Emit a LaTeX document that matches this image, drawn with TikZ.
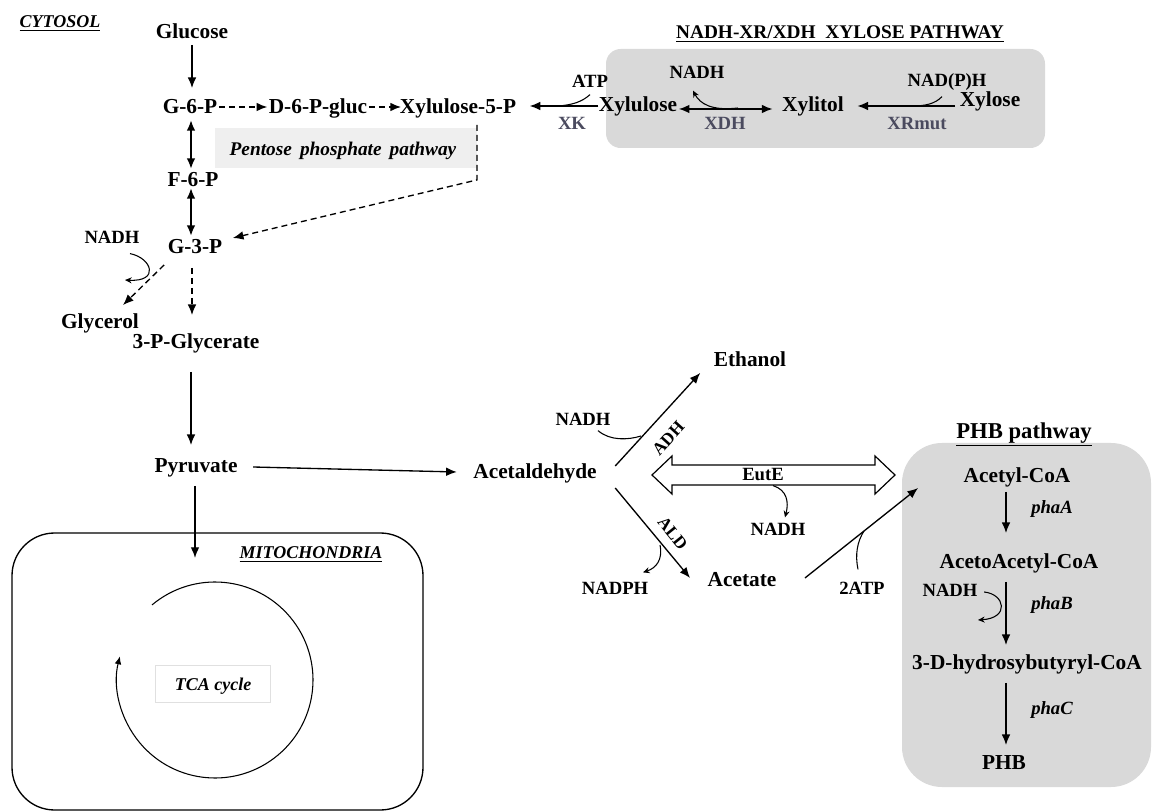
\documentclass[tikz,border=0pt]{standalone}
\usepackage{fontspec}
\setmainfont{Liberation Serif}
\usetikzlibrary{arrows.meta,calc}
\definecolor{enzgray}{RGB}{75,75,95}
\definecolor{boxgray}{RGB}{217,217,217}
\definecolor{pppgray}{RGB}{239,239,239}
\tikzset{
  met/.style={font=\fontsize{16}{18}\selectfont\bfseries,inner sep=1pt,text height=12pt,text depth=2pt},
  cof/.style={font=\fontsize{14}{16}\selectfont\bfseries,inner sep=1pt,text height=10.5pt,text depth=1.5pt},
  enz/.style={cof,text=enzgray},
  gene/.style={cof,font=\fontsize{14}{16}\selectfont\bfseries\itshape},
  region/.style={cof,font=\fontsize{13.5}{16}\selectfont\bfseries\itshape},
  rxn/.style={-{Latex[length=8pt,width=6.5pt]},line width=1pt},
  rev/.style={{Latex[length=8pt,width=6.5pt]}-{Latex[length=8pt,width=6.5pt]},line width=1.6pt},
  curv/.style={line width=0.8pt},
  curvarr/.style={curv,-{Stealth[length=5pt,width=4.5pt]}},
  dsh/.style={dash pattern=on 4.5pt off 3pt}
}
\begin{document}
\begin{tikzpicture}[x=0.75pt,y=-0.75pt]
\useasboundingbox (0,0) rectangle (1153,812);

% compartments
\fill[boxgray,rounded corners=11pt] (606,49) rectangle (1045,148);
\fill[boxgray,rounded corners=30pt] (902,443) rectangle (1151,787);
\draw[line width=1pt,rounded corners=32pt] (12,533) rectangle (423,810);
\node[fill=pppgray,minimum width=196.5pt,minimum height=30pt,inner sep=0pt] (ppp) at (346,148) {};
\node[region,font=\fontsize{14.5}{16}\selectfont\bfseries\itshape] (ppplbl) at (343,150) {Pentose\ \,phosphate\ \,pathway};

% titles
\node[region] (cyt) at (60,22) {\underline{CYTOSOL}};
\node[cof,font=\fontsize{14.5}{16}\selectfont\bfseries] (xttl) at (840,33) {\underline{NADH-XR/XDH\ \ XYLOSE PATHWAY}};
\node[met,font=\fontsize{17}{19}\selectfont\bfseries] (phbttl) at (1024,432) {\underline{PHB pathway}};
\node[region] (mito) at (311,553) {\underline{MITOCHONDRIA}};

% glycolysis
\node[met] (glc) at (192,32) {Glucose};
\node[met] (g6p) at (190,107) {G-6-P};
\node[met] (d6p) at (318,107) {D-6-P-gluc};
\node[met] (x5p) at (458,107) {Xylulose-5-P};
\node[met] (f6p) at (193,180) {F-6-P};
\node[met] (g3p) at (195,247) {G-3-P};
\node[cof] (nadhA) at (112,238) {NADH};
\node[met] (glyc) at (100,322) {Glycerol};
\node[met] (pga) at (196,342) {3-P-Glycerate};
\node[met] (pyr) at (196,466) {Pyruvate};

\draw[rxn,shorten <=1.5pt,shorten >=6pt] (glc.south) -- (glc.south |- g6p.north);
\draw[rxn,dsh] (g6p.east) -- (d6p.west);
\draw[rxn,dsh,shorten >=-2pt] (d6p.east) -- (x5p.west);
\draw[rev,shorten <=1.5pt] ($(g6p.south)+(1,0)$) -- ($(g6p.south |- f6p.north)+(1,0)$);
\draw[rev] ($(f6p.south)+(-2,-3)$) -- ($(f6p.south |- g3p.north)+(-2,0)$);
\draw[rxn,dsh] ($(x5p.south)+(19,7)$) -- ++(0,55) -- ($(g3p.east)+(9,-9)$);
\draw[rxn,dsh] ($(g3p.south west)+(-2,7)$) -- ($(glyc.north)+(23,-6)$);
\draw[curvarr] ($(nadhA.south)+(18,6)$) .. controls (152,258) and (160,282) .. (125,280);
\draw[rxn,dsh] ($(g3p.south)+(-3,10)$) -- ($(pga.north)+(-4,-16)$);
\draw[rxn] ($(pga.south)+(-5,19)$) -- ($(pyr.north)+(-5,-10)$);
\draw[rxn] ($(pyr.south)+(-1,9)$) -- ($(pyr.south)+(-1,81)$);

% xylose pathway
\node[cof] (atp) at (590,82) {ATP};
\node[enz] (xk) at (572,124) {XK};
\node[met] (xul) at (638,105) {Xylulose};
\node[cof] (nadhB) at (697,73) {NADH};
\node[enz] (xdh) at (725,124) {XDH};
\node[met] (xol) at (813,105) {Xylitol};
\node[cof] (nadph) at (947,81) {NAD(P)H};
\node[enz] (xr) at (917,124) {XRmut};
\node[met] (xyl) at (990,100) {Xylose};

\draw[rxn] ($(xul.west)+(1,1)$) -- ($(x5p.east)+(12,-1)$);
\draw[curv] ($(atp.south)+(0,3)$) .. controls (582,102) and (572,105) .. (558,106);
\draw[rev,line width=1.3pt] ($(xul.east)+(0,4)$) -- ($(xol.west)+(-8,4)$);
\draw[curvarr] (738,108) .. controls (712,111) and (700,104) .. ($(nadhB.south)+(-4,8)$);
\draw[rxn] ($(xyl.west)+(-3,6)$) -- ($(xol.east)+(12,1)$);
\draw[curv] ($(nadph.south)+(-5,6)$) .. controls (935,104) and (925,106) .. (912,106);

% acetaldehyde branch
\node[met] (acald) at (535,472) {Acetaldehyde};
\node[met] (etoh) at (750,360) {Ethanol};
\node[cof] (nadhC) at (583,420) {NADH};
\node[cof,font=\fontsize{13}{15}\selectfont\bfseries,rotate=48] (adh) at (668,438) {ADH};
\node[cof,font=\fontsize{13}{15}\selectfont\bfseries,rotate=-51] (ald) at (673,533) {ALD};
\node[cof] (nadphB) at (615,588) {NADPH};
\node[met] (acet) at (742,580) {Acetate};
\node[cof] (atpB) at (862,588) {2ATP};

\draw[rxn] ($(pyr.east)+(14,1)$) -- ($(acald.west)+(-15,0)$);
\draw[rxn] ($(acald.east)+(17,-6)$) -- ($(etoh.south west)+(-12,2)$);
\draw[curv] ($(nadhC.south)+(15,1)$) .. controls (610,441) and (628,440) .. (641,436);
\draw[rxn] ($(acald.east)+(17,16)$) -- ($(acet.west)+(-16,-2)$);
\draw[curvarr] (660,545) .. controls (663,560) and (656,568) .. ($(nadphB.north)+(28,-6)$);

\coordinate (eutL) at (652,475);
\draw[line width=0.9pt,fill=white] (eutL) -- ++(20,-19) -- ++(0,9) -- ++(203,0) -- ++(0,-9)
  -- ++(20,19) -- ++(-20,19) -- ++(0,-9) -- ++(-203,0) -- ++(0,9) -- cycle;
\node[cof] (eute) at (763,475) {EutE};
\node[cof] (nadhD) at (778,530) {NADH};
\draw[curvarr] ($(eute.south)+(10,1)$) .. controls (787,490) and (789,502) .. ($(nadhD.north)+(7,-3)$);

% PHB pathway
\node[met] (acoa) at (1017,476) {Acetyl-CoA};
\node[gene] (phaA) at (1052,508) {phaA};
\node[met] (aacoa) at (1019,562) {AcetoAcetyl-CoA};
\node[cof] (nadhE) at (950,590) {NADH};
\node[gene] (phaB) at (1052,603) {phaB};
\node[met] (hbcoa) at (1027,663) {3-D-hydrosybutyryl-CoA};
\node[gene] (phaC) at (1052,708) {phaC};
\node[met] (phb) at (1004,763) {PHB};

\draw[rxn] ($(acet.east)+(27,-2)$) -- ($(acoa.west)+(-44,12)$);
\draw[curv] ($(atpB.north)+(-4,-9)$) .. controls (855,555) and (857,542) .. (864,531);
\draw[rxn] ($(acoa.south)+(-11,5)$) -- ($(aacoa.north)+(-13,-18)$);
\draw[rxn] ($(aacoa.south)+(-13,9)$) -- ($(hbcoa.north)+(-21,-7)$);
\draw[curvarr] ($(nadhE.east)+(5,2)$) .. controls (1005,594) and (1010,618) .. (978,620);
\draw[rxn] ($(hbcoa.south)+(-21,9)$) -- ($(phb.north)+(2,-7)$);

% TCA cycle
\coordinate (tca) at (215,680);
\draw[curv,-{Latex[length=6pt,width=5pt]}] (tca) ++(130:73.5pt) arc[start angle=130,end angle=-194,radius=73.5pt];
\node[region,draw=black!12,line width=0.5pt,minimum width=86pt,minimum height=28pt] (tcalbl) at (213,684) {TCA cycle};
\end{tikzpicture}
\end{document}
